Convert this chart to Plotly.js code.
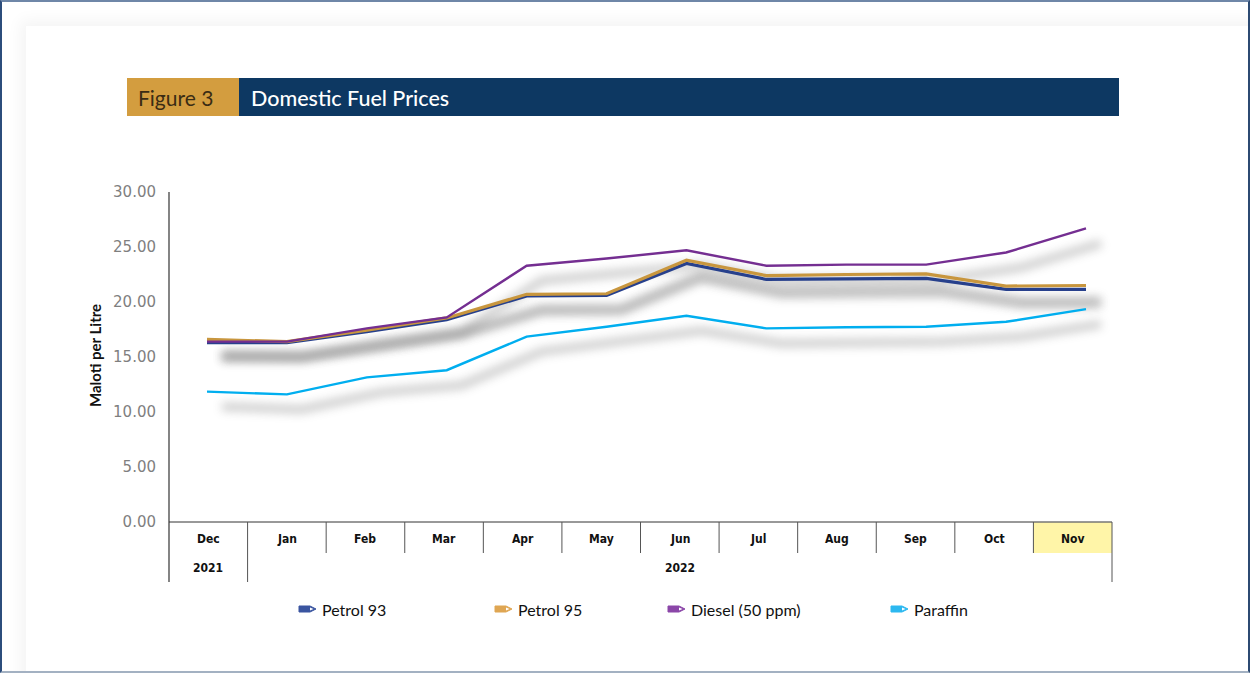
<!DOCTYPE html>
<html>
<head>
<meta charset="utf-8">
<script src="https://cdn.plot.ly/plotly-3.0.1.min.js"></script>
<style>
html,body{margin:0;padding:0;background:#fff;overflow:hidden;}
#frame{position:absolute;left:0;top:0;width:1250px;height:673px;box-sizing:border-box;overflow:hidden;
  border-left:2px solid #2c4d7c;border-right:2px solid #2c4a72;border-top:2px solid #6f87a8;border-bottom:2px solid #a3b1c2;}
#card{position:absolute;left:24px;top:24px;width:1260px;height:680px;box-shadow:0 0 14px 6px rgba(0,0,0,0.045);}
#chart{position:absolute;left:0;top:0;width:1250px;height:673px;}
</style>
</head>
<body>
<div id="frame"><div id="card"></div></div>
<div id="chart"></div>
<script>
// ---- data ----
const months = ['Dec','Jan','Feb','Mar','Apr','May','Jun','Jul','Aug','Sep','Oct','Nov'];
const yearLabels = ['2021','2022'];
const yearSpans = [[0,0],[1,11]];      // month index spans for each year
const seriesNames = ['Petrol 93','Petrol 95','Diesel (50 ppm)','Paraffin'];
const petrol93 = [16.3, 16.3, 17.3, 18.4, 20.55, 20.6, 23.5, 22.05, 22.1, 22.15, 21.15, 21.15];
const petrol95 = [16.6, 16.4, 17.45, 18.55, 20.7, 20.75, 23.8, 22.4, 22.5, 22.55, 21.45, 21.5];
const diesel   = [16.4, 16.4, 17.6, 18.6, 23.3, 23.95, 24.7, 23.3, 23.4, 23.4, 24.5, 26.7];
const paraffin = [11.85, 11.6, 13.15, 13.8, 16.85, 17.75, 18.75, 17.6, 17.7, 17.75, 18.2, 19.35];
const yTicks = [0, 5, 10, 15, 20, 25, 30];

// ---- styling ----
const seriesValues = [petrol93, petrol95, diesel, paraffin];
const lineColors = ['#27408c', '#c8963e', '#742e91', '#00aeef'];
const iconColors = ['#3a55a0', '#dfa653', '#8b46a8', '#2cb8f0'];
const lineWidths = [3.2, 3.2, 2.4, 2.4];
const condensed = "'Liberation Sans Narrow','DejaVu Sans Condensed','Roboto Condensed',Lato,sans-serif";
const textFont = "Lato, 'Open Sans', sans-serif";

// pixel -> paper helpers (plot area: x 169..1112, y 192..522)
const L = 169, R = 1112, T = 192, B = 522;
const px = x => (x - L) / (R - L);
const py = y => (B - y) / (B - T);

const traces = [];
// blurred drop shadows on offset (hidden) axes
seriesValues.forEach((vals, i) => {
  traces.push({x: months, y: vals, xaxis: 'x', yaxis: 'y', mode: 'lines', uid: 'sh' + i,
    line: {color: '#7a7a7a', width: 8}, opacity: 0.38, hoverinfo: 'skip', showlegend: false});
});
// main lines
seriesValues.forEach((vals, i) => {
  traces.push({x: months, y: vals, xaxis: 'x2', yaxis: 'y2', mode: 'lines', name: seriesNames[i],
    line: {color: lineColors[i], width: lineWidths[i]}, showlegend: false});
});

const shapes = [];
const annotations = [];

// banner
shapes.push({type: 'rect', xref: 'paper', yref: 'paper', x0: px(127), x1: px(239), y0: py(116), y1: py(78),
  fillcolor: '#d39d3f', line: {width: 0}});
shapes.push({type: 'rect', xref: 'paper', yref: 'paper', x0: px(239), x1: px(1119), y0: py(116), y1: py(78),
  fillcolor: '#0d3862', line: {width: 0}});
annotations.push({xref: 'paper', yref: 'paper', x: px(136), y: py(98), xanchor: 'left', yanchor: 'middle',
  text: 'Figure 3', showarrow: false, font: {family: textFont, size: 21, color: '#3a2c14'}});
annotations.push({xref: 'paper', yref: 'paper', x: px(249), y: py(98), xanchor: 'left', yanchor: 'middle',
  text: 'Domestic Fuel Prices', showarrow: false, font: {family: textFont, size: 21.5, color: '#ffffff', weight: 500}});

// y-axis title
annotations.push({xref: 'paper', yref: 'paper', x: px(95), y: py(356), xanchor: 'center', yanchor: 'middle',
  textangle: -90, text: '<b>Maloti per Litre</b>', showarrow: false,
  font: {family: textFont, size: 15, color: '#111'}});

// category table under the axis
const n = months.length;
const cellW = 1 / n;
const rowMid1 = py(539), rowMid2 = py(568);
// highlighted last month cell
shapes.push({type: 'rect', xref: 'paper', yref: 'paper', x0: (n - 1) * cellW, x1: 1, y0: py(553), y1: py(522.5),
  fillcolor: '#fff5a8', line: {width: 0}, layer: 'below'});
months.forEach((m, k) => {
  annotations.push({xref: 'paper', yref: 'paper', x: (k + 0.5) * cellW, y: rowMid1, xanchor: 'center', yanchor: 'middle',
    text: '<b>' + m + '</b>', showarrow: false, font: {family: condensed, size: 12, color: '#111'}});
});
yearLabels.forEach((yl, j) => {
  const [a, b] = yearSpans[j];
  annotations.push({xref: 'paper', yref: 'paper', x: (a + b + 1) / 2 * cellW, y: rowMid2, xanchor: 'center', yanchor: 'middle',
    text: '<b>' + yl + '</b>', showarrow: false, font: {family: condensed, size: 12, color: '#111'}});
});
// table lines
shapes.push({type: 'line', xref: 'paper', yref: 'paper', x0: 0, x1: 1, y0: 0, y1: 0, line: {color: '#333', width: 1}});
shapes.push({type: 'line', xref: 'paper', yref: 'paper', x0: 0, x1: 0, y0: 1, y1: py(582), line: {color: '#333', width: 1.2}});
for (let k = 1; k <= n; k++) {
  const isYearBoundary = yearSpans.some(s => s[0] === k) || k === n;
  shapes.push({type: 'line', xref: 'paper', yref: 'paper', x0: k * cellW, x1: k * cellW, y0: 0,
    y1: isYearBoundary ? py(582) : py(553), line: {color: '#555', width: 1}});
}

// custom legend (pencil icons + text)
const legendX = [299, 495, 668, 891];
const legendY = 609;
seriesNames.forEach((name, i) => {
  const x0 = legendX[i];
  const p = (x, y) => px(x) + ',' + py(y);
  shapes.push({type: 'path', xref: 'paper', yref: 'paper',
    path: 'M' + p(x0, legendY - 3) + ' L' + p(x0 + 11, legendY - 3) + ' L' + p(x0 + 17, legendY) + ' L' + p(x0 + 11, legendY + 3) + ' L' + p(x0, legendY + 3) + ' Z',
    fillcolor: iconColors[i], line: {color: iconColors[i], width: 1}});
  shapes.push({type: 'path', xref: 'paper', yref: 'paper',
    path: 'M' + p(x0 + 11, legendY - 1.6) + ' L' + p(x0 + 14.5, legendY) + ' L' + p(x0 + 11, legendY + 1.6) + ' Z',
    fillcolor: '#ffffff', line: {width: 0}});
  annotations.push({xref: 'paper', yref: 'paper', x: px(x0 + 21), y: py(legendY), xanchor: 'left', yanchor: 'middle',
    text: name, showarrow: false, font: {family: textFont, size: 16, color: '#111'}});
});

// axes: x/y carry the shifted shadow, x2/y2 carry the real values
const pxPerCat = (1086 - 207) / (n - 1);
const xr0 = -(207 - L) / pxPerCat, xr1 = (n - 1) + (R - 1086) / pxPerCat;
const sdx = 15 / pxPerCat, sdy = 15 / ((B - T) / 30);

const layout = {
  width: 1250, height: 673,
  margin: {l: L, r: 1250 - R, t: T, b: 673 - B, pad: 0},
  paper_bgcolor: 'rgba(0,0,0,0)', plot_bgcolor: 'rgba(0,0,0,0)',
  showlegend: false,
  xaxis: {type: 'category', categoryarray: months, range: [xr0 - sdx, xr1 - sdx], visible: false, fixedrange: true},
  yaxis: {range: [sdy, 30 + sdy], visible: false, fixedrange: true},
  xaxis2: {type: 'category', categoryarray: months, overlaying: 'x', anchor: 'y2', range: [xr0, xr1],
    visible: false, fixedrange: true},
  yaxis2: {overlaying: 'y', anchor: 'x2', side: 'left', range: [0, 30], tickvals: yTicks, tickformat: '.2f',
    showgrid: false, zeroline: false, showline: false, ticks: '', ticklabelstandoff: 12,
    tickfont: {family: "'DejaVu Sans', Verdana, sans-serif", size: 15, color: '#7f7f7f'}, fixedrange: true},
  shapes: shapes,
  annotations: annotations
};

Plotly.newPlot('chart', traces, layout, {staticPlot: true, displayModeBar: false}).then(function (gd) {
  const ns = 'http://www.w3.org/2000/svg';
  const svg = gd.querySelector('svg.main-svg');
  let defs = svg.querySelector('defs');
  if (!defs) { defs = document.createElementNS(ns, 'defs'); svg.insertBefore(defs, svg.firstChild); }
  const f = document.createElementNS(ns, 'filter');
  f.setAttribute('id', 'shadowBlur');
  f.setAttribute('filterUnits', 'userSpaceOnUse');
  f.setAttribute('x', '-300'); f.setAttribute('y', '-300');
  f.setAttribute('width', '2200'); f.setAttribute('height', '1600');
  const b = document.createElementNS(ns, 'feGaussianBlur');
  b.setAttribute('stdDeviation', '5');
  f.appendChild(b); defs.appendChild(f);
  gd.querySelectorAll('g.trace').forEach(function (g) {
    if (/\btracesh\d\b/.test(g.getAttribute('class') || '')) g.setAttribute('filter', 'url(#shadowBlur)');
  });
});
</script>
</body>
</html>
